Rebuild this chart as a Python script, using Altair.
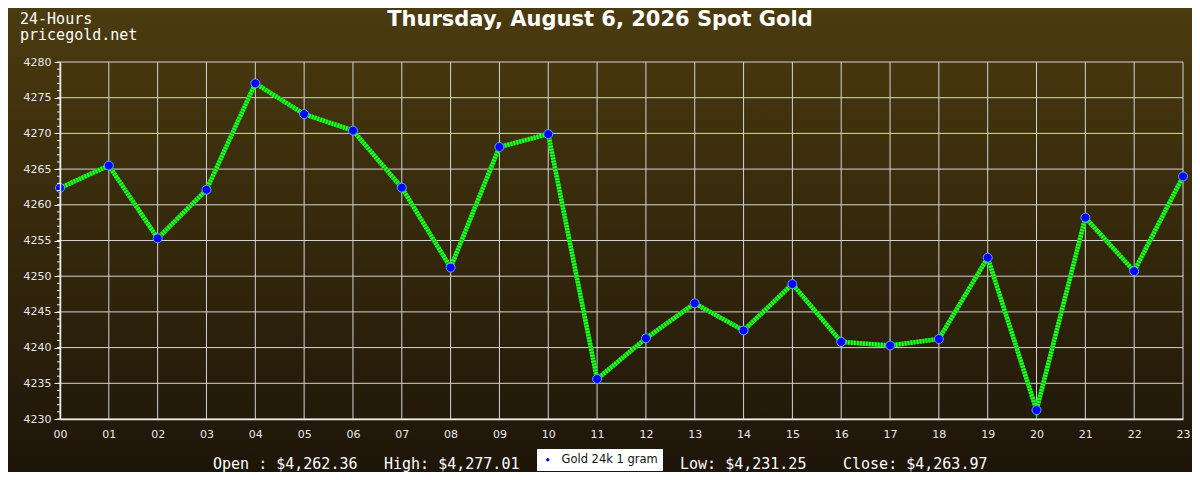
import altair as alt
import pandas as pd

# ---- data ----
hours = ["00", "01", "02", "03", "04", "05", "06", "07", "08", "09", "10", "11",
         "12", "13", "14", "15", "16", "17", "18", "19", "20", "21", "22", "23"]
prices = [4262.36, 4265.5, 4255.3, 4262.1, 4277.01, 4272.7, 4270.4, 4262.4,
          4251.2, 4268.1, 4269.9, 4235.6, 4241.3, 4246.2, 4242.4, 4248.9,
          4240.8, 4240.3, 4241.2, 4252.6, 4231.25, 4258.2, 4250.7, 4263.97]
series_name = "Gold 24k 1 gram"
title_text = "Thursday, August 6, 2026 Spot Gold"
corner_lines = ["24-Hours", "pricegold.net"]
footer_items = ["Open : $4,262.36", "High: $4,277.01", "Low: $4,231.25", "Close: $4,263.97"]
footer_left_px = [213, 384, 680, 843]
y_ticks = list(range(4230, 4281, 5))
y_minor = list(range(4230, 4281, 1))

df = pd.DataFrame({"hour": hours, "price": prices, "series": series_name})
minor_df = pd.DataFrame({"v": y_minor})
major_df = pd.DataFrame({"v": y_ticks})
one = pd.DataFrame({"a": [0]})

W, H = 1123, 357
PL, PT = 52, 54
PR = 1184 - PL - W
PB = 464 - PT - H

xs = alt.Scale(type="point", padding=0)
ys = alt.Scale(domain=[4230, 4280], nice=False, zero=False)

x_axis = alt.Axis(title=None, labelAngle=0, ticks=False, labelPadding=9,
                  labelFont="DejaVu Sans", labelFontSize=11, labelColor="#e8e8e8",
                  grid=False, zindex=1, domainColor="#f0f0f0", domainWidth=1.5)
y_axis = alt.Axis(title=None, values=y_ticks, format="d", tickSize=6, tickColor="#f0f0f0",
                  labelPadding=3, labelFont="DejaVu Sans", labelFontSize=11,
                  labelColor="#e8e8e8", grid=False, zindex=1,
                  domainColor="#f0f0f0", domainWidth=1.5)

X = alt.X("hour:O", scale=xs, axis=x_axis)
Y = alt.Y("price:Q", scale=ys, axis=y_axis)

grad = alt.Gradient(
    gradient="linear",
    stops=[alt.GradientStop(color="#4b3b0f", offset=0),
           alt.GradientStop(color="#1e1509", offset=1)],
    x1=0, x2=0, y1=0, y2=1,
)

bg = alt.Chart(one).mark_rect(color=grad, clip=False).encode(
    x=alt.value(-PL), x2=alt.value(W + PR), y=alt.value(-PT), y2=alt.value(H + PB)
)

GRID = "#d4d4d4"
vgrid = alt.Chart(df).mark_rule(color=GRID, strokeWidth=1).encode(x=X)
hgrid = alt.Chart(major_df).mark_rule(color=GRID, strokeWidth=1).encode(
    y=alt.Y("v:Q", scale=ys, axis=y_axis)
)

base = alt.Chart(df)

line_base = base.mark_line(color="#0c9c0c", strokeWidth=4.5).encode(x=X, y=Y)
line_top = base.mark_line(color="#22ff22", strokeWidth=4.5, strokeDash=[2, 1]).encode(x=X, y=Y)

points = base.mark_point(filled=True, size=80, stroke="#55aaff", strokeWidth=1,
                         opacity=1, shape="circle").encode(
    x=X, y=Y,
    color=alt.Color("series:N", scale=alt.Scale(range=["#0000ff"]),
                    legend=alt.Legend(title=None, orient="none", legendX=477, legendY=387,
                                      fillColor="white", padding=5,
                                      symbolType="diamond", symbolSize=18,
                                      symbolStrokeWidth=0,
                                      labelFont="DejaVu Sans", labelFontSize=11.5,
                                      labelColor="#111111", labelOffset=8)),
)

minor = alt.Chart(minor_df).mark_rule(color="#f0f0f0", clip=False).encode(
    y=alt.Y("v:Q", scale=ys, axis=y_axis), x=alt.value(-3), x2=alt.value(0)
)

title = alt.Chart(one).mark_text(text=title_text, font="DejaVu Sans", fontSize=21,
                                 fontWeight="bold", color="white", align="center",
                                 baseline="middle").encode(
    x=alt.value(600 - 60), y=alt.value(20 - 62))

corner = alt.Chart(one).mark_text(text=corner_lines, font="DejaVu Sans Mono", fontSize=15,
                                  color="white", align="left", baseline="middle",
                                  lineHeight=16).encode(
    x=alt.value(20 - 60), y=alt.value(19 - 62))

foot_df = pd.DataFrame({"t": footer_items, "px": [p - 60 for p in footer_left_px]})
footer = alt.Chart(foot_df).mark_text(font="DejaVu Sans Mono", fontSize=15,
                                      color="white", align="left", baseline="middle").encode(
    text="t:N", x=alt.X("px:Q", scale=None), y=alt.value(464 - 62))

chart = alt.layer(bg, vgrid, hgrid, line_base, line_top, points, minor, title, corner,
                  footer).properties(
    width=W, height=H,
    autosize=alt.AutoSizeParams(type="none"),
    padding={"left": PL, "top": PT, "right": PR, "bottom": PB},
).configure(background="#2e230c").configure_view(stroke=None)

chart.save("out.html", embed_options={"renderer": "svg", "actions": False})
